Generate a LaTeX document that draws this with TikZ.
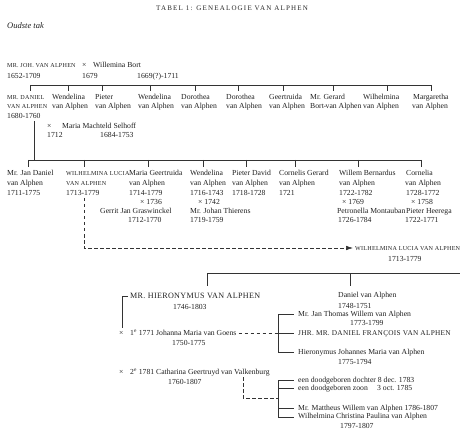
\documentclass[tikz,border=0pt]{standalone}
\usepackage{fontspec}
\setmainfont{Liberation Serif}
\newfontfamily\titlefont{Liberation Serif}[LetterSpace=17]
\newfontfamily\capfont{Liberation Serif}[LetterSpace=4]
\usetikzlibrary{arrows.meta}
\newcommand\fs{\fontsize{7.7}{9}\selectfont}
\newcommand\fsc[1]{{\capfont\fontsize{6.1}{8}\selectfont #1}}
\newcommand\capsf{\capfont\fontsize{8.1}{9}\selectfont}
\newcommand\capsg{\capfont\fontsize{7.3}{9}\selectfont}
\tikzset{
  t/.style={anchor=base west, inner sep=0pt, font=\fs, text=black!88},
  ln/.style={line width=0.55pt, draw=black!80},
  dsh/.style={line width=0.55pt, draw=black!80, dash pattern=on 3.5pt off 2.5pt},
}
\begin{document}
\begin{tikzpicture}[x=1pt,y=-1pt]
\useasboundingbox (0,0) rectangle (470,435);
% title
\node[anchor=base, inner sep=0pt, text=black!85] (title) at (232,11) {\titlefont\fontsize{7}{8}\selectfont TABEL 1: GENEALOGIE VAN ALPHEN};
\node[t, font=\fontsize{8.5}{10}\selectfont\itshape] (tak) at (7,28.5) {Oudste tak};
% generation 1
\node[t] (joh) at (7,67.5) {\fsc{MR. JOH. VAN ALPHEN}};
\node[t] (x1) at (82,67.5) {×};
\node[t] (bort) at (93,67.5) {Willemina Bort};
\node[t] (johd) at (7,78.5) {1652-1709};
\node[t] (x1d) at (82,78.5) {1679};
\node[t] (bortd) at (137,78.5) {1669(?)-1711};
% line gen 2
\coordinate (h1l) at (30,85); \coordinate (h1r) at (431,85);
\draw[ln] (h1l) -- (h1r);
\foreach \x [count=\i] in {30,68,102,150,195,238,283,333,387,431}{
  \coordinate (ua\i) at (\x,85); \coordinate (ub\i) at (\x,91);
  \draw[ln] (ua\i) -- (ub\i);}
% generation 2
\node[t] (dan1) at (7,99.5) {\fsc{MR. DANIEL}};
\node[t] (dan2) at (7,108.5) {\fsc{VAN ALPHEN}};
\node[t] (dan3) at (7,118.5) {1680-1760};
\node[t] (g2a1) at (52,99.5) {Wendelina};
\node[t] (g2a2) at (52,108.5) {van Alphen};
\node[t] (g2b1) at (95,99.5) {Pieter};
\node[t] (g2b2) at (95,108.5) {van Alphen};
\node[t] (g2c1) at (138,99.5) {Wendelina};
\node[t] (g2c2) at (138,108.5) {van Alphen};
\node[t] (g2d1) at (181,99.5) {Dorothea};
\node[t] (g2d2) at (181,108.5) {van Alphen};
\node[t] (g2e1) at (226,99.5) {Dorothea};
\node[t] (g2e2) at (226,108.5) {van Alphen};
\node[t] (g2f1) at (269,99.5) {Geertruida};
\node[t] (g2f2) at (269,108.5) {van Alphen};
\node[t] (g2g1) at (310,99.5) {Mr. Gerard};
\node[t] (g2g2) at (310,108.5) {Bort\kern-0.4pt-\kern-0.4pt van Alphen};
\node[t] (g2h1) at (363,99.5) {Wilhelmina};
\node[t] (g2h2) at (363,108.5) {van Alphen};
\node[t] (g2i1) at (413,99.5) {Margaretha};
\node[t] (g2i2) at (412,108.5) {van Alphen};
% marriage Daniel
\node[t] (x2) at (47,128.5) {×};
\node[t] (selh) at (62,128.5) {Maria Machteld Selhoff};
\node[t] (x2d) at (47,137.5) {1712};
\node[t] (selhd) at (100,137.5) {1684-1753};
\coordinate (dv1) at (34,121); \coordinate (dv2) at (34,160);
\draw[ln] (dv1) -- (dv2);
% line gen 3
\coordinate (h2l) at (28,160); \coordinate (h2r) at (421,160);
\draw[ln] (h2l) -- (h2r);
\foreach \x [count=\i] in {28,84,148,203,246,295,358,421}{
  \coordinate (va\i) at (\x,160); \coordinate (vb\i) at (\x,167);
  \draw[ln] (va\i) -- (vb\i);}
% generation 3
\node[t] (jd1) at (7,175.5) {Mr. Jan Daniel};
\node[t] (jd2) at (7,185.5) {van Alphen};
\node[t] (jd3) at (7,195.5) {1711-1775};
\node[t] (wl1) at (66,175.5) {\fsc{WILHELMINA LUCIA}};
\node[t] (wl2) at (66,185.5) {\fsc{VAN ALPHEN}};
\node[t] (wl3) at (66,195.5) {1713-1779};
\node[t] (mg1) at (129,175.5) {Maria Geertruida};
\node[t] (mg2) at (129,185.5) {van Alphen};
\node[t] (mg3) at (129,195.5) {1714-1779};
\node[t] (mg4) at (140,204.5) {× 1736};
\node[t] (mg5) at (100,213.5) {Gerrit Jan Graswinckel};
\node[t] (mg6) at (128,222.5) {1712-1770};
\node[t] (we1) at (190,175.5) {Wendelina};
\node[t] (we2) at (190,185.5) {van Alphen};
\node[t] (we3) at (190,195.5) {1716-1743};
\node[t] (we4) at (198,204.5) {× 1742};
\node[t] (we5) at (190,213.5) {Mr. Johan Thierens};
\node[t] (we6) at (190,222.5) {1719-1759};
\node[t] (pd1) at (232,175.5) {Pieter David};
\node[t] (pd2) at (232,185.5) {van Alphen};
\node[t] (pd3) at (232,195.5) {1718-1728};
\node[t] (cg1) at (279,175.5) {Cornelis Gerard};
\node[t] (cg2) at (279,185.5) {van Alphen};
\node[t] (cg3) at (279,195.5) {1721};
\node[t] (wb1) at (339,175.5) {Willem Bernardus};
\node[t] (wb2) at (339,185.5) {van Alphen};
\node[t] (wb3) at (339,195.5) {1722-1782};
\node[t] (wb4) at (342,204.5) {× 1769};
\node[t] (wb5) at (337,213.5) {Petronella Montauban};
\node[t] (wb6) at (338,222.5) {1726-1784};
\node[t] (co1) at (406,175.5) {Cornelia};
\node[t] (co2) at (405,185.5) {van Alphen};
\node[t] (co3) at (406,195.5) {1728-1772};
\node[t] (co4) at (411,204.5) {× 1758};
\node[t] (co5) at (406,213.5) {Pieter Heerega};
\node[t] (co6) at (405,222.5) {1722-1771};
% dashed arrow
\node[t] (wlr) at (355,250.5) {\fsc{WILHELMINA LUCIA VAN ALPHEN}};
\node[t] (wlrd) at (388,261.5) {1713-1779};
\coordinate (da1) at (84,198); \coordinate (da2) at (84,248);
\draw[dsh, -{Latex[length=7pt,width=4.5pt]}] (da1) -- (da2) -- ([xshift=-2pt]wlr.west |- da2);
% section 3
\coordinate (h3l) at (207,273); \coordinate (h3r) at (460,273);
\draw[ln] (h3l) -- (h3r);
\coordinate (w1) at (207,286); \draw[ln] (h3l) -- (w1);
\coordinate (w2a) at (350,273); \coordinate (w2b) at (350,286); \draw[ln] (w2a) -- (w2b);
\node[t, font=\capsf] (hier) at (130,298.5) {MR. HIERONYMUS VAN ALPHEN};
\node[t] (hierd) at (173,309) {1746-1803};
\coordinate (hb1) at (128,296); \coordinate (hb2) at (122,296); \coordinate (hb3) at (122,328);
\draw[ln] (hb1) -- (hb2) -- (hb3);
\node[t] (dva) at (338,297.5) {Daniel van Alphen};
\node[t] (dvad) at (338,308.5) {1748-1751};
\node[t] (jt) at (298,316.5) {Mr. Jan Thomas Willem van Alphen};
\node[t] (jtd) at (350,325.5) {1773-1799};
\node[t] (x3) at (119,335.5) {×};
\node[t] (goens) at (130,335.5) {1\textsuperscript{e} 1771 Johanna Maria van Goens};
\node[t] (goensd) at (172,345.5) {1750-1775};
\node[t, font=\capsg] (jhr) at (298,335.5) {JHR. MR. DANIEL FRANÇOIS VAN ALPHEN};
\node[t] (hj) at (298,354) {Hieronymus Johannes Maria van Alphen};
\node[t] (hjd) at (338,364.5) {1775-1794};
% bracket 1
\coordinate (b1t) at (278,314); \coordinate (b1b) at (278,352);
\draw[ln] (b1t) -- (b1b);
\coordinate (b1m) at (278,333);
\foreach \y [count=\i] in {314,333,352}{
  \coordinate (ba\i) at (278,\y); \coordinate (bb\i) at (294,\y);
  \draw[ln] (ba\i) -- (bb\i);}
\coordinate (gd) at ([xshift=2pt]goens.east |- b1m);
\draw[dsh] (gd) -- (b1m);
% second marriage
\node[t] (x4) at (119,374.5) {×};
\node[t] (valk) at (130,374.5) {2\textsuperscript{e} 1781 Catharina Geertruyd van Valkenburg};
\node[t] (valkd) at (168,384) {1760-1807};
\coordinate (vd1) at (243,377); \coordinate (vd2) at (243,398); \coordinate (vd3) at (278,398);
\draw[dsh] (vd1) -- (vd2) -- (vd3);
\coordinate (b2t) at (278,380); \coordinate (b2b) at (278,417);
\draw[ln] (b2t) -- (b2b);
\foreach \y [count=\i] in {380,388,408,417}{
  \coordinate (ca\i) at (278,\y); \coordinate (cb\i) at (294,\y);
  \draw[ln] (ca\i) -- (cb\i);}
\node[t] (k1) at (298,382) {een doodgeboren dochter 8 dec. 1783};
\node[t] (k2) at (298,390) {een doodgeboren zoon};
\node[t] (k2d) at (377,390) {3 oct. 1785};
\node[t] (k3) at (298,410) {Mr. Mattheus Willem van Alphen 1786-1807};
\node[t] (k4) at (298,418.5) {Wilhelmina Christina Paulina van Alphen};
\node[t] (k4d) at (340,428.5) {1797-1807};
\end{tikzpicture}
\end{document}
